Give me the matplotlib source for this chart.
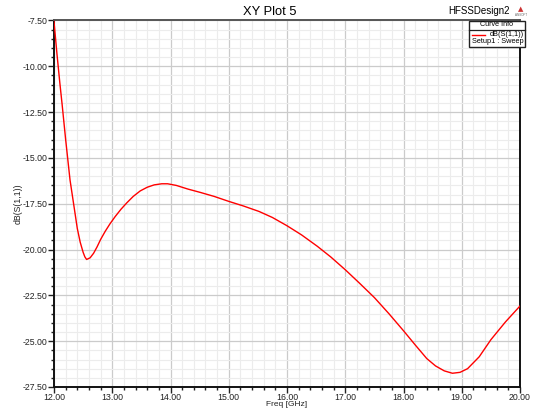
import matplotlib
matplotlib.use("Agg")
import matplotlib.pyplot as plt
from matplotlib.patches import Rectangle
from matplotlib.lines import Line2D
from matplotlib.ticker import MultipleLocator, FormatStrFormatter

plt.rcParams['font.family'] = ['Liberation Sans', 'DejaVu Sans']

# S11 curve (GHz, dB)
freq = [12.00, 12.05, 12.10, 12.14, 12.20, 12.275, 12.36, 12.40, 12.45, 12.50,
        12.53, 12.56, 12.62, 12.68, 12.74, 12.80, 12.88, 12.96, 13.05, 13.15,
        13.25, 13.36, 13.48, 13.60, 13.72, 13.85, 13.95, 14.10, 14.30, 14.51,
        14.75, 15.00, 15.25, 15.52, 15.75, 16.00, 16.25, 16.52, 16.75, 17.00,
        17.25, 17.50, 17.75, 18.00, 18.20, 18.40, 18.55, 18.70, 18.84, 18.97,
        19.10, 19.30, 19.50, 19.75, 20.00]
s11_db = [-7.55, -9.3, -10.9, -12.1, -14.0, -16.2, -18.0, -18.85, -19.6, -20.15,
          -20.4, -20.54, -20.45, -20.2, -19.85, -19.45, -19.0, -18.6, -18.2, -17.8,
          -17.45, -17.1, -16.8, -16.6, -16.47, -16.41, -16.41, -16.5, -16.7, -16.88,
          -17.1, -17.37, -17.62, -17.92, -18.25, -18.7, -19.2, -19.82, -20.4, -21.1,
          -21.85, -22.62, -23.5, -24.43, -25.2, -25.95, -26.35, -26.62, -26.75, -26.7,
          -26.5, -25.85, -24.92, -23.95, -23.08]

title = "XY Plot 5"
design = "HFSSDesign2"
trace_name = "dB(S(1,1))"
sweep_name = "Setup1 : Sweep"

W, H = 534, 409
fig = plt.figure(figsize=(W / 100, H / 100), dpi=100)
ax = fig.add_axes([54 / W, 1 - 387 / H, (520 - 54) / W, (387 - 20.5) / H])

ax.plot(freq, s11_db, color='#ff0000', linewidth=1.0, zorder=3)

ax.set_xlim(12, 20)
ax.set_ylim(-27.5, -7.5)
ax.xaxis.set_major_locator(MultipleLocator(1))
ax.xaxis.set_minor_locator(MultipleLocator(0.2))
ax.yaxis.set_major_locator(MultipleLocator(2.5))
ax.yaxis.set_minor_locator(MultipleLocator(0.5))
ax.xaxis.set_major_formatter(FormatStrFormatter('%.2f'))
ax.yaxis.set_major_formatter(FormatStrFormatter('%.2f'))

ax.grid(which='major', color='#cbcbcb', linewidth=0.9)
ax.grid(which='minor', color='#ececec', linewidth=0.8)
ax.set_axisbelow(True)

ax.tick_params(which='major', direction='out', length=4, width=1, colors='#222222',
               labelsize=6.3, pad=1.0)
ax.tick_params(axis='x', which='major', pad=0.3)
ax.tick_params(which='minor', direction='out', length=2.5, width=1, colors='#222222')

for side in ['left', 'bottom', 'right']:
    ax.spines[side].set_color('#111111')
    ax.spines[side].set_linewidth(1.4)
ax.spines['top'].set_color('#555555')
ax.spines['top'].set_linewidth(1.4)

fig.text(286.5 / W, 1 - 404.5 / H, "Freq [GHz]", ha='center', va='center',
         fontsize=6.0, color='#222222')
fig.text(18 / W, 1 - 204 / H, "dB(S(1,1))", ha='center', va='center', rotation=90,
         fontsize=6.3, color='#222222')

fig.text(270 / W, 1 - 12 / H, title, ha='center', va='center', fontsize=9.3)
fig.text(510 / W, 1 - 11 / H, design, ha='right', va='center', fontsize=7)
fig.text(521 / W, 1 - 9 / H, '\u25b2', ha='center', va='center', fontsize=5,
         color='#cc3333', family=['DejaVu Sans'])
fig.text(521 / W, 1 - 14.5 / H, 'ANSOFT', ha='center', va='center', fontsize=2.2,
         color='#666666')

# curve info box
bx0, bx1, by0, by1, bsep = 469, 525, 20.5, 47, 29.5
fig.patches.append(Rectangle((bx0 / W, 1 - by1 / H), (bx1 - bx0) / W, (by1 - by0) / H,
                             transform=fig.transFigure, facecolor='white',
                             edgecolor='#222222', linewidth=1.0, zorder=5))
fig.lines.append(Line2D([bx0 / W, bx1 / W], [1 - bsep / H, 1 - bsep / H],
                        transform=fig.transFigure, color='#222222', linewidth=0.9,
                        zorder=6))
fig.text((bx0 + bx1) / 2 / W, 1 - 25 / H, "Curve Info", ha='center', va='center',
         fontsize=5.1, zorder=7)
fig.lines.append(Line2D([472 / W, 485 / W], [1 - 35 / H, 1 - 35 / H],
                        transform=fig.transFigure, color='#ff0000', linewidth=1.0,
                        zorder=7))
fig.text(523.5 / W, 1 - 35 / H, trace_name, ha='right', va='center', fontsize=5.3,
         zorder=7)
fig.text(472 / W, 1 - 41.7 / H, sweep_name, ha='left', va='center', fontsize=5.3,
         zorder=7)

fig.savefig("out.png", dpi=100)
